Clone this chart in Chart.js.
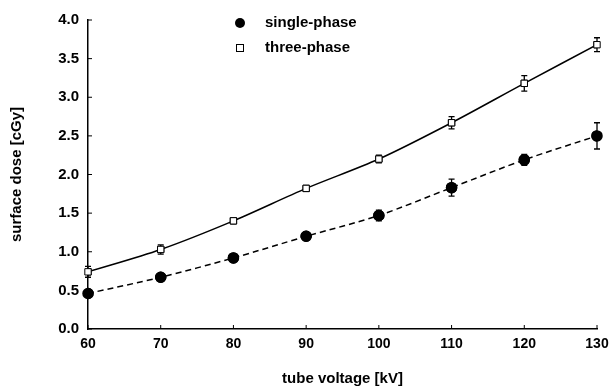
<!DOCTYPE html>
<html>
<head>
<meta charset="utf-8">
<script src="https://cdn.jsdelivr.net/npm/chart.js@4.4.0/dist/chart.umd.min.js"></script>
<style>
html, body { margin: 0; padding: 0; background: #fff; }
#wrap { width: 609px; height: 392px; }
</style>
</head>
<body>
<div id="wrap"><canvas id="chart"></canvas></div>
<script>
var voltages = [60, 70, 80, 90, 100, 110, 120, 130];
var singlePhase = [0.46, 0.67, 0.92, 1.20, 1.47, 1.83, 2.19, 2.50];
var singleErr = [0.04, 0.03, 0.02, 0.04, 0.07, 0.11, 0.07, 0.17];
var threePhase = [0.74, 1.03, 1.40, 1.82, 2.20, 2.67, 3.18, 3.68];
var threeErr = [0.07, 0.06, 0.03, 0.03, 0.05, 0.08, 0.10, 0.09];
var xTicks = [60, 70, 80, 90, 100, 110, 120, 130];
var yTicks = [0, 0.5, 1, 1.5, 2, 2.5, 3, 3.5, 4];

var FAMILY = '"Liberation Sans", Arial, sans-serif';
var FONT = { family: FAMILY, size: 15, weight: 'bold' };
var TICKFONT = { family: FAMILY, size: 14, weight: 'bold' };

function pts(vals) {
	return voltages.map(function (v, i) { return { x: v, y: vals[i] }; });
}

// error bars, inward ticks and legend drawn with the chart's scales
var extras = {
	id: 'extras',
	afterDatasetsDraw: function (chart) {
		var ctx = chart.ctx;
		var xs = chart.scales.x, ys = chart.scales.y;
		var errs = [singleErr, threeErr];
		ctx.save();
		ctx.strokeStyle = '#000';
		ctx.lineWidth = 1.3;
		[singlePhase, threePhase].forEach(function (vals, d) {
			vals.forEach(function (v, i) {
				var px = xs.getPixelForValue(voltages[i]);
				var top = ys.getPixelForValue(v + errs[d][i]);
				var bot = ys.getPixelForValue(v - errs[d][i]);
				ctx.beginPath();
				ctx.moveTo(px, top); ctx.lineTo(px, bot);
				ctx.moveTo(px - 3, top); ctx.lineTo(px + 3, top);
				ctx.moveTo(px - 3, bot); ctx.lineTo(px + 3, bot);
				ctx.stroke();
			});
		});
		// redraw markers over the bars
		chart.getDatasetMeta(0).data.forEach(function (p) { p.draw(ctx, chart.chartArea); });
		chart.getDatasetMeta(1).data.forEach(function (p) { p.draw(ctx, chart.chartArea); });

		// inward ticks
		ctx.lineWidth = 1;
		xTicks.forEach(function (t) {
			var px = xs.getPixelForValue(t);
			ctx.beginPath(); ctx.moveTo(px, ys.bottom); ctx.lineTo(px, ys.bottom - 4); ctx.stroke();
		});
		yTicks.forEach(function (t) {
			var py = ys.getPixelForValue(t);
			ctx.beginPath(); ctx.moveTo(xs.left, py); ctx.lineTo(xs.left + 4, py); ctx.stroke();
		});

		// legend
		ctx.fillStyle = '#000';
		ctx.beginPath(); ctx.arc(240, 23, 5, 0, Math.PI * 2); ctx.fill();
		ctx.fillStyle = '#fff';
		ctx.fillRect(236, 44, 8, 8);
		ctx.strokeRect(236.5, 44.5, 7, 7);
		ctx.fillStyle = '#000';
		ctx.font = 'bold 15px ' + FAMILY;
		ctx.textBaseline = 'middle';
		ctx.textAlign = 'left';
		ctx.fillText('single-phase', 265, 23);
		ctx.fillText('three-phase', 265, 48);
		ctx.restore();
	}
};

var ctx = document.getElementById('chart');
var myChart = new Chart(ctx, {
	type: 'line',
	data: {
		datasets: [{
			label: 'single-phase',
			data: pts(singlePhase),
			borderColor: '#000',
			borderWidth: 1.5,
			borderDash: [6, 4],
			pointStyle: 'circle',
			pointRadius: 5,
			pointBackgroundColor: '#000',
			pointBorderColor: '#000',
			tension: 0.3
		}, {
			label: 'three-phase',
			data: pts(threePhase),
			borderColor: '#000',
			borderWidth: 1.5,
			pointStyle: 'rect',
			pointRadius: 4.5,
			pointBackgroundColor: '#fff',
			pointBorderColor: '#000',
			pointBorderWidth: 1,
			tension: 0.3
		}]
	},
	options: {
		responsive: true,
		maintainAspectRatio: false,
		animation: false,
		layout: { padding: { top: 20, right: 12, left: 0, bottom: 0 } },
		plugins: { legend: { display: false }, tooltip: { enabled: false } },
		scales: {
			x: {
				type: 'linear',
				min: 60, max: 130,
				afterBuildTicks: function (s) { s.ticks = xTicks.map(function (v) { return { value: v }; }); },
				afterFit: function (s) { s.height = 63; s.paddingRight = 0; s.paddingLeft = 0; },
				grid: { display: false, drawTicks: false },
				border: { display: true, color: '#000', width: 1.5 },
				ticks: { color: '#000', font: TICKFONT, padding: 7, maxRotation: 0 },
				title: { display: true, text: 'tube voltage [kV]', color: '#000', font: FONT, padding: { top: 16 } }
			},
			y: {
				min: 0, max: 4,
				afterBuildTicks: function (s) { s.ticks = yTicks.map(function (v) { return { value: v }; }); },
				afterFit: function (s) { s.width = 88; },
				grid: { display: false, drawTicks: false },
				border: { display: true, color: '#000', width: 1.5 },
				ticks: {
					color: '#000',
					font: FONT,
					padding: 9,
					callback: function (v) { return v.toFixed(1); }
				},
				title: { display: true, text: 'surface dose [cGy]', color: '#000', font: FONT, padding: { top: 8, bottom: 16 } }
			}
		}
	},
	plugins: [extras]
});
</script>
</body>
</html>
